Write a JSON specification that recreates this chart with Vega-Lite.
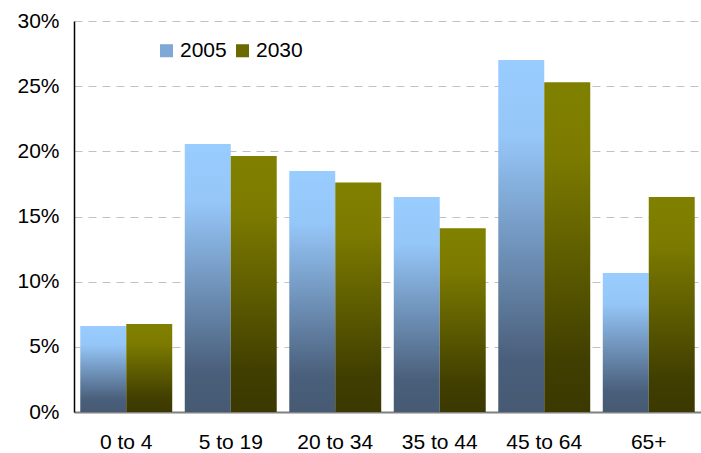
{
  "$schema": "https://vega.github.io/schema/vega-lite/v6.json",
  "width": 701,
  "height": 453,
  "autosize": {"type": "fit", "contains": "padding"},
  "padding": {"left": 16, "right": 0, "top": 10, "bottom": 1},
  "background": "white",
  "config": {
    "font": "Liberation Sans",
    "view": {"stroke": null}
  },
  "data": {
    "values": [
      {"age": "0 to 4", "year": "2005", "share": 0.066},
      {"age": "0 to 4", "year": "2030", "share": 0.0675},
      {"age": "5 to 19", "year": "2005", "share": 0.2057},
      {"age": "5 to 19", "year": "2030", "share": 0.1965},
      {"age": "20 to 34", "year": "2005", "share": 0.185},
      {"age": "20 to 34", "year": "2030", "share": 0.176},
      {"age": "35 to 44", "year": "2005", "share": 0.165},
      {"age": "35 to 44", "year": "2030", "share": 0.141},
      {"age": "45 to 64", "year": "2005", "share": 0.27},
      {"age": "45 to 64", "year": "2030", "share": 0.253},
      {"age": "65+", "year": "2005", "share": 0.1067},
      {"age": "65+", "year": "2030", "share": 0.165}
    ]
  },
  "encoding": {
    "x": {
      "field": "age",
      "type": "nominal",
      "sort": null,
      "scale": {"paddingInner": 0.12, "paddingOuter": 0.06},
      "axis": {
        "title": null,
        "labelAngle": 0,
        "labelFontSize": 21,
        "labelColor": "#000000",
        "labelPadding": 19,
        "ticks": false,
        "domainColor": "#808080",
        "domainWidth": 2
      }
    },
    "xOffset": {"field": "year", "type": "nominal"},
    "y": {
      "field": "share",
      "type": "quantitative",
      "scale": {"domain": [0, 0.3], "nice": false},
      "axis": {
        "title": null,
        "format": ".0%",
        "values": [0, 0.05, 0.1, 0.15, 0.2, 0.25, 0.3],
        "labelFontSize": 21,
        "labelColor": "#000000",
        "labelPadding": 15,
        "ticks": false,
        "domainColor": "#000000",
        "domainWidth": 1.5,
        "gridColor": "#c0c0c0",
        "gridDash": [8, 6],
        "gridWidth": 1
      }
    }
  },
  "layer": [
    {
      "mark": {"type": "bar"},
      "encoding": {
        "fill": {
          "condition": {
            "test": "datum.year === '2005'",
            "value": {"gradient": "linear", "x1": 0, "y1": 0, "x2": 0, "y2": 1,
              "stops": [
                {"offset": 0, "color": "#99ccff"},
                {"offset": 0.22, "color": "#95c6f8"},
                {"offset": 0.85, "color": "#4a5f7b"},
                {"offset": 1, "color": "#465a73"}
              ]}
          },
          "value": {"gradient": "linear", "x1": 0, "y1": 0, "x2": 0, "y2": 1,
            "stops": [
              {"offset": 0, "color": "#808000"},
              {"offset": 0.22, "color": "#7c7b00"},
              {"offset": 0.85, "color": "#403e00"},
              {"offset": 1, "color": "#3b3900"}
            ]}
        }
      }
    },
    {
      "mark": {"type": "bar", "opacity": 0},
      "encoding": {
        "color": {
          "field": "year",
          "type": "nominal",
          "scale": {"domain": ["2005", "2030"], "range": ["#7fa8d6", "#6b6a00"]},
          "legend": {
            "title": null,
            "orient": "none",
            "direction": "horizontal",
            "legendX": 82,
            "legendY": 19,
            "symbolType": "square",
            "symbolSize": 170,
            "symbolOpacity": 1,
            "symbolStrokeWidth": 0,
            "labelFontSize": 21,
            "labelColor": "#000000",
            "columnPadding": 5,
            "labelOffset": 3,
            "encode": {
              "symbols": {
                "update": {
                  "opacity": {"value": 1},
                  "fill": {"signal": "datum.value === '2005' ? {gradient: 'linear', x1: 0, y1: 0, x2: 0, y2: 1, stops: [{offset: 0, color: '#99ccff'}, {offset: 1, color: '#4a5f7b'}]} : {gradient: 'linear', x1: 0, y1: 0, x2: 0, y2: 1, stops: [{offset: 0, color: '#808000'}, {offset: 1, color: '#3b3900'}]}"}
                }
              }
            }
          }
        }
      }
    }
  ]
}
